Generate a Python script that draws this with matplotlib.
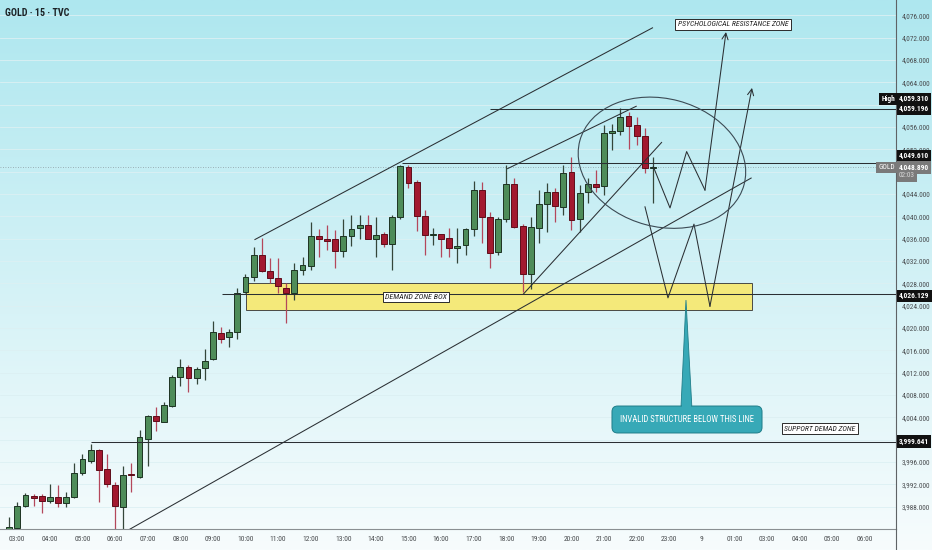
import numpy as np
import matplotlib
matplotlib.use("Agg")
import matplotlib.pyplot as plt
from matplotlib import font_manager, transforms as mtransforms
from matplotlib.patches import Rectangle, Ellipse, Polygon, FancyBboxPatch
from matplotlib.lines import Line2D

# ---------------------------------------------------------------- data
# 15-minute GOLD candles; bar 0 is 03:00, the first bar (-1) is 02:45
opens = [3983.6, 3984.2, 3988.1, 3990.0, 3989.9, 3989.1, 3989.8, 3988.6, 3989.8, 3994.0,
         3996.2, 3998.2, 3994.7, 3991.8, 3988.0, 3993.8, 3993.4, 4000.1, 4004.2, 4003.2,
         4006.1, 4011.3, 4013.1, 4011.0, 4012.8, 4014.4, 4019.1, 4018.3, 4019.2, 4026.5,
         4029.2, 4033.1, 4030.2, 4028.9, 4027.2, 4026.2, 4030.4, 4031.1, 4036.5, 4036.0,
         4035.9, 4033.8, 4036.4, 4037.9, 4038.4, 4036.0, 4036.8, 4035.0, 4039.9, 4048.9,
         4046.2, 4040.1, 4036.6, 4036.8, 4036.1, 4034.3, 4034.8, 4037.8, 4044.7, 4039.8,
         4033.7, 4039.6, 4045.8, 4038.3, 4029.6, 4037.9, 4042.2, 4044.3, 4041.7, 4047.9,
         4039.5, 4044.4, 4045.8, 4045.4, 4055.0, 4055.2, 4058.0, 4056.4, 4054.4, 4048.7]
highs = [3986.2, 3988.9, 3990.5, 3990.3, 3990.3, 3992.0, 3991.9, 3990.6, 3995.8, 3997.4,
         3999.2, 3998.4, 3997.4, 3992.4, 3995.3, 3995.8, 4001.7, 4004.5, 4005.8, 4006.8,
         4011.5, 4014.4, 4013.4, 4013.0, 4016.2, 4021.3, 4020.2, 4019.9, 4027.1, 4029.7,
         4034.5, 4036.2, 4032.6, 4032.6, 4028.0, 4031.6, 4032.8, 4039.0, 4037.7, 4038.4,
         4037.6, 4039.5, 4040.2, 4040.2, 4040.2, 4039.8, 4037.2, 4040.2, 4049.2, 4049.2,
         4046.5, 4041.1, 4037.9, 4036.9, 4037.9, 4037.9, 4037.9, 4046.3, 4046.1, 4040.8,
         4039.8, 4049.2, 4046.8, 4038.6, 4039.9, 4044.8, 4046.0, 4045.0, 4049.2, 4050.6,
         4045.6, 4046.8, 4048.3, 4056.4, 4056.6, 4059.31, 4058.6, 4057.8, 4055.8, 4050.6]
lows = [3983.0, 3983.5, 3987.9, 3988.1, 3986.8, 3988.7, 3988.0, 3988.0, 3989.5, 3993.6,
        3995.8, 3988.9, 3991.5, 3983.0, 3983.5, 3990.7, 3993.2, 3995.2, 4001.6, 4003.1,
        4005.8, 4009.6, 4008.5, 4010.0, 4010.7, 4014.2, 4017.4, 4016.6, 4018.1, 4026.2,
        4028.5, 4030.1, 4028.0, 4026.2, 4020.9, 4025.1, 4029.5, 4030.4, 4032.8, 4034.0,
        4030.7, 4032.8, 4034.6, 4035.9, 4035.9, 4032.8, 4034.5, 4030.4, 4039.5, 4045.0,
        4037.4, 4033.1, 4034.9, 4032.7, 4032.7, 4031.7, 4033.0, 4036.4, 4035.2, 4030.7,
        4033.0, 4038.9, 4037.9, 4026.5, 4027.0, 4035.2, 4037.2, 4039.0, 4040.2, 4037.5,
        4037.2, 4042.3, 4044.4, 4043.9, 4051.8, 4054.6, 4052.0, 4052.8, 4047.8, 4042.4]
closes = [3984.4, 3988.1, 3990.1, 3989.6, 3989.1, 3989.8, 3988.7, 3989.8, 3994.0, 3996.5,
          3998.2, 3994.6, 3992.0, 3988.1, 3993.7, 3993.6, 4000.5, 4004.2, 4003.3, 4006.2,
          4011.3, 4013.0, 4011.0, 4012.7, 4014.1, 4019.2, 4018.1, 4019.3, 4026.2, 4029.2,
          4033.1, 4030.2, 4028.9, 4027.5, 4026.2, 4030.4, 4031.3, 4036.4, 4035.9, 4035.6,
          4033.8, 4036.4, 4037.8, 4038.4, 4036.0, 4036.7, 4035.0, 4039.9, 4049.0, 4045.9,
          4040.1, 4036.6, 4036.8, 4035.9, 4034.4, 4034.7, 4037.7, 4044.8, 4039.8, 4033.5,
          4039.6, 4045.8, 4038.1, 4029.6, 4038.0, 4042.2, 4044.3, 4041.9, 4047.7, 4039.3,
          4044.1, 4045.8, 4045.2, 4055.0, 4055.2, 4057.8, 4056.2, 4054.3, 4048.6, 4048.89]
first_bar = -1

hour_labels = ["03:00", "04:00", "05:00", "06:00", "07:00", "08:00", "09:00", "10:00",
               "11:00", "12:00", "13:00", "14:00", "15:00", "16:00", "17:00", "18:00",
               "19:00", "20:00", "21:00", "22:00", "23:00", "9", "01:00", "03:00",
               "04:00", "05:00", "06:00"]
bars_per_hour = 4

price_ticks = list(range(3988, 4077, 4))
hidden_ticks = [4000, 4048, 4060]   # sit under the price badges

high_value = 4059.310
level_top = 4059.196
level_mid = 4049.610
last_price = 4048.890
countdown = "02:03"
level_demand = 4026.129
level_support = 3999.641

# ---------------------------------------------------------------- fonts
_names = {f.name for f in font_manager.fontManager.ttflist}
NARROW = next((n for n in ("Liberation Sans Narrow", "DejaVu Sans Condensed",
                           "Roboto Condensed", "Open Sans Condensed")
               if n in _names), "Liberation Sans")

# ---------------------------------------------------------------- figure
W, H, DPI = 932, 550, 100
fig = plt.figure(figsize=(W / DPI, H / DPI), dpi=DPI)

# vertical cyan-to-white wash behind everything
bg = fig.add_axes([0, 0, 1, 1], zorder=-10)
top_c = np.array([174, 231, 239]) / 255
bot_c = np.array([247, 252, 253]) / 255
t = np.linspace(0, 1, 256)[:, None]
grad = (top_c[None, :] * (1 - t) + bot_c[None, :] * t)[:, None, :]
bg.imshow(grad, aspect="auto", extent=[0, 1, 0, 1], origin="upper")
bg.axis("off")

ax = fig.add_axes([0, 21 / H, 896 / W, 529 / H])
ax.set_facecolor("none")
XMIN, XMAX = -2.123, 107.82
ax.set_xlim(XMIN, XMAX)
ax.set_ylim(3984.005, 4078.74)

for s in ("top", "left"):
    ax.spines[s].set_visible(False)
ax.spines["right"].set_color("#5f6366")
ax.spines["bottom"].set_color("#8a8f92")
ax.spines["right"].set_linewidth(0.8)
ax.spines["bottom"].set_linewidth(0.8)

ax.yaxis.tick_right()
ax.set_yticks(price_ticks)
ax.set_yticklabels(["" if v in hidden_ticks else f"{v:,.3f}" for v in price_ticks])
ax.set_xticks(np.arange(len(hour_labels)) * bars_per_hour)
ax.set_xticklabels(hour_labels)
ax.tick_params(axis="y", length=0, pad=4, labelsize=5.3, labelcolor="#4a4d50")
ax.tick_params(axis="x", length=0, pad=5, labelsize=5.4, labelcolor="#4a4d50")
for lab in ax.get_xticklabels() + ax.get_yticklabels():
    lab.set_fontfamily(NARROW)

# faint horizontal grid
for v in price_ticks:
    ax.axhline(v, color="#dcf0f3", lw=0.6, zorder=0.5)

fig.add_artist(Line2D([896 / W, 896 / W], [0, 21 / H], transform=fig.transFigure,
                      color="#5f6366", lw=0.8))

# ---------------------------------------------------------------- demand zone
ax.add_patch(Rectangle((28.06, 4023.2), 90.1 - 28.06, 4028.0 - 4023.2,
                       facecolor="#f7e96f", edgecolor="#3c3c3c", lw=0.7,
                       alpha=0.92, zorder=1))

# ---------------------------------------------------------------- candles
x = np.arange(len(opens)) + first_bar
o = np.array(opens); h = np.array(highs); l = np.array(lows); c = np.array(closes)
up = c >= o
GREEN, GREEN_EDGE, GREEN_WICK = "#4e8c59", "#1d3322", "#34463a"
RED, RED_EDGE, RED_WICK = "#a2192f", "#5e0d1a", "#b4475b"

ax.vlines(x[up], l[up], h[up], color=GREEN_WICK, lw=0.9, zorder=2)
ax.vlines(x[~up], l[~up], h[~up], color=RED_WICK, lw=0.9, zorder=2)
body_lo = np.minimum(o, c)
body_h = np.maximum(np.abs(c - o), 0.22)
ax.bar(x[up], body_h[up], bottom=body_lo[up], width=0.72, color=GREEN,
       edgecolor=GREEN_EDGE, lw=0.7, zorder=3)
ax.bar(x[~up], body_h[~up], bottom=body_lo[~up], width=0.72, color=RED,
       edgecolor=RED_EDGE, lw=0.7, zorder=3)

# ---------------------------------------------------------------- drawings
LC = "#2a2f33"
LW = 0.75

# price levels
ax.hlines(level_support, 9.0, XMAX, color=LC, lw=LW, zorder=4)
ax.hlines(level_demand, 25.1, XMAX, color=LC, lw=LW, zorder=4)
ax.hlines(level_mid, 47.2, XMAX, color=LC, lw=LW, zorder=4)
ax.hlines(level_top, 58.0, XMAX, color=LC, lw=LW, zorder=4)
ax.axhline(last_price, color="#8c9ca2", lw=0.6, ls=(0, (1, 2)), zorder=1.5)

# trend lines
for (x0, y0), (x1, y1) in [((29.1, 4035.8), (78.0, 4073.8)),
                           ((13.6, 3983.8), (90.1, 4046.9)),
                           ((62.05, 4026.0), (79.1, 4053.3)),
                           ((60.1, 4048.5), (76.0, 4059.75))]:
    ax.plot([x0, x1], [y0, y1], color=LC, lw=LW, zorder=4, solid_capstyle="butt")

# projected paths
paths = [
    [(78.04, 4048.89), (80.09, 4041.5), (82.13, 4051.6), (84.38, 4044.7), (86.96, 4073.0)],
    [(77.02, 4041.7), (79.84, 4025.4), (83.03, 4038.6), (84.99, 4023.9), (90.15, 4063.0)],
]
for pts in paths:
    px, py = zip(*pts[:-1])
    ax.plot(px, py, color=LC, lw=LW, zorder=4)
    ax.annotate("", xy=pts[-1], xytext=pts[-2],
                arrowprops=dict(arrowstyle="->,head_length=0.45,head_width=0.22",
                                color=LC, lw=LW, shrinkA=0, shrinkB=0), zorder=4)

# ellipse around the top, sized in screen pixels
ell_tr = mtransforms.IdentityTransform() + mtransforms.ScaledTranslation(79.1, 4049.6, ax.transData)
ax.add_patch(Ellipse((0, 0), 170, 128, angle=-15, transform=ell_tr,
                     facecolor="none", edgecolor="#3b4a54", lw=0.8, zorder=4))

# labelled boxes
box_kw = dict(boxstyle="square,pad=0.3", facecolor="white", edgecolor="#2a2a2a", lw=0.7)
ax.text(87.82, 4074.4, "PSYCHOLOGICAL RESISTANCE ZONE", ha="center", va="center",
        fontsize=5.6, style="italic", family=NARROW, color="#222", bbox=box_kw, zorder=6)
ax.text(48.92, 4025.55, "DEMAND ZONE BOX", ha="center", va="center",
        fontsize=5.8, style="italic", family=NARROW, color="#222", bbox=box_kw, zorder=6)
ax.text(98.49, 4002.0, "SUPPORT DEMAD ZONE", ha="center", va="center",
        fontsize=5.6, style="italic", family=NARROW, color="#222", bbox=box_kw, zorder=6)

# callout
TEAL, TEAL_EDGE = "#37a9b7", "#1f7d89"
ax.add_patch(Polygon([(82.05, 4025.0), (81.43, 4005.6), (82.78, 4005.6)], closed=True,
                     facecolor=TEAL, edgecolor=TEAL_EDGE, lw=0.6, zorder=5))
aspect = (1 / 5.584) / (1 / 8.15)
ax.add_patch(FancyBboxPatch((72.97, 4001.2), 91.38 - 72.97, 4006.03 - 4001.2,
                            boxstyle="round,pad=0,rounding_size=0.7", mutation_aspect=aspect,
                            facecolor=TEAL, edgecolor=TEAL_EDGE, lw=0.7, zorder=5))
ax.add_patch(Polygon([(81.55, 4006.3), (82.66, 4006.3), (82.66, 4005.7), (81.55, 4005.7)],
                     closed=True, facecolor=TEAL, edgecolor="none", zorder=5.5))
ax.text(82.17, 4003.6, "INVALID STRUCTURE BELOW THIS LINE", ha="center", va="center",
        fontsize=6.2, family=NARROW, color="white", zorder=6)

# title
fig.text(5 / W, 1 - 13.5 / H, "GOLD · 15 · TVC", ha="left", va="center",
         fontsize=7.2, fontweight="bold", family=NARROW, color="#1c2226")

# ---------------------------------------------------------------- price-scale badges
def badge(txt, price, dy, fc, tc="white", side="right", bold=True):
    off = mtransforms.ScaledTranslation((3 if side == "right" else -1) / DPI, dy / DPI,
                                        fig.dpi_scale_trans)
    tr = mtransforms.blended_transform_factory(ax.transAxes, ax.transData) + off
    ax.text(1.0, price, txt, transform=tr, ha="left" if side == "right" else "right",
            va="center", fontsize=5.3, family=NARROW, color=tc,
            fontweight="bold" if bold else "normal",
            bbox=dict(boxstyle="square,pad=0.32", facecolor=fc, edgecolor="none"),
            clip_on=False, zorder=20)

badge(f"{high_value:,.3f}", high_value, 9.5, "#111111")
badge("High", high_value, 9.5, "#111111", side="left")
badge(f"{level_top:,.3f}", level_top, 0.5, "#111111")
badge(f"{level_mid:,.3f}", level_mid, 6.7, "#111111")
badge("GOLD", last_price, -0.8, "#7a7a7a", side="left", bold=False)
badge(f"{last_price:,.3f}", last_price, -0.8, "#7a7a7a")
badge(countdown, last_price, -9.0, "#7a7a7a", tc="#d6d6d6", bold=False)
badge(f"{level_demand:,.3f}", level_demand, -2.2, "#111111")
badge(f"{level_support:,.3f}", level_support, 0.0, "#111111")

fig.savefig("out.png", dpi=DPI)
